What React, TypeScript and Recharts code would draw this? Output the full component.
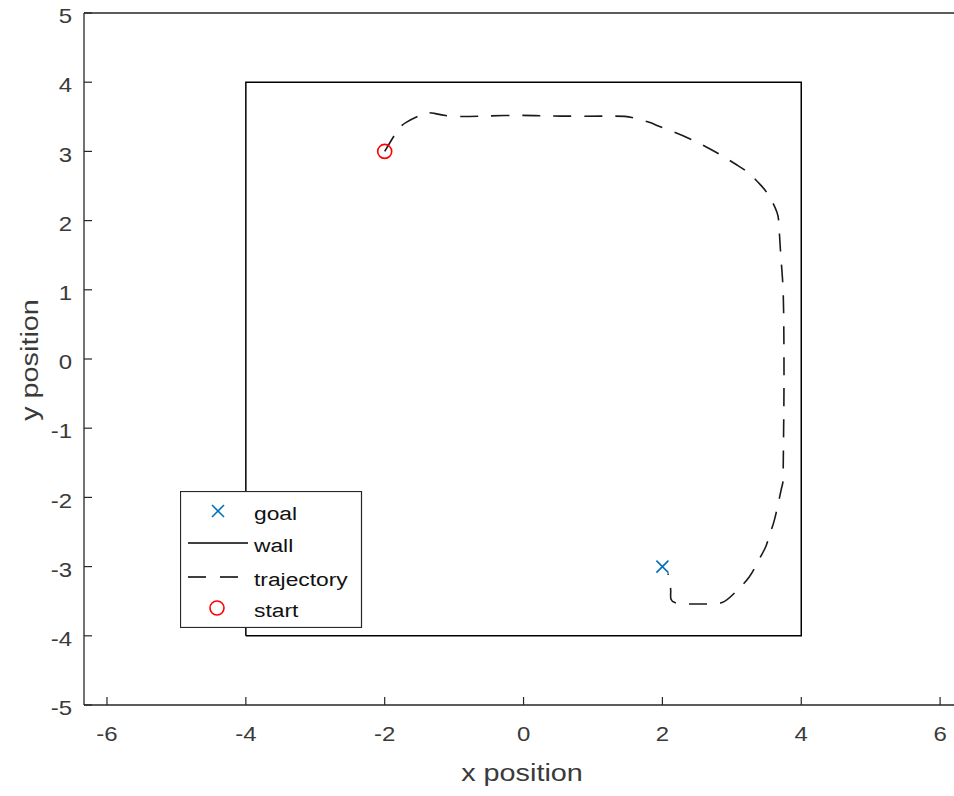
import React from 'react';
import { ScatterChart, Scatter, XAxis, YAxis, Legend } from 'recharts';

// ---- data ----
const xTicks = [-6, -4, -2, 0, 2, 4, 6];
const yTicks = [-5, -4, -3, -2, -1, 0, 1, 2, 3, 4, 5];
const xDomain = [-6.331, 6.2];
const yDomain = [-5, 5];

const wallX = [-4, -4, 4, 4, -4];
const wallY = [-4, 4, 4, -4, -4];

const trajX = [-2.0, -1.83, -1.69, -1.44, -1.29, -1.04, -0.61, -0.03, 0.55, 1.27, 1.56, 1.81, 1.96, 2.4, 2.82, 3.08, 3.25, 3.41, 3.54, 3.65, 3.68, 3.71, 3.74, 3.75, 3.75, 3.74, 3.72, 3.62, 3.55, 3.49, 3.39, 3.25, 3.05, 2.86, 2.57, 2.18, 2.12, 2.08];
const trajY = [3.0, 3.28, 3.42, 3.54, 3.55, 3.51, 3.51, 3.52, 3.51, 3.51, 3.49, 3.42, 3.36, 3.18, 2.96, 2.8, 2.68, 2.52, 2.35, 2.12, 1.91, 1.43, 0.95, 0.23, -0.6, -1.6, -1.85, -2.3, -2.52, -2.71, -2.9, -3.15, -3.37, -3.52, -3.54, -3.52, -3.36, -3.1];

const goalX = [2];
const goalY = [-3];
const startX = [-2];
const startY = [3];

const seriesNames = ['goal', 'wall', 'trajectory', 'start'];

const toPts = (xs: number[], ys: number[]) => xs.map((x, i) => ({ x, y: ys[i] }));
const wallData = toPts(wallX, wallY);
const trajData = toPts(trajX, trajY);
const goalData = toPts(goalX, goalY);
const startData = toPts(startX, startY);

// ---- styles ----
const FONT = '"Liberation Sans", Arial, Helvetica, sans-serif';
const TXT = '#3a3a3a';
const AX = '#262626';
const SX = 1.2;
const BLUE = '#0072BD';
const RED = '#FF0000';
const DASH = '18 13';

const XTick = (p: any) => (
  <g transform={`translate(${p.x},${p.y}) scale(${SX},1)`}>
    <text x={0} y={0} dy="0.72em" textAnchor="middle" fontSize={20} fill={TXT} fontFamily={FONT}>
      {p.payload.value}
    </text>
  </g>
);

const YTick = (p: any) => (
  <g transform={`translate(${p.x},${p.y + 3}) scale(${SX},1)`}>
    <text x={0} y={0} dy="0.355em" textAnchor="end" fontSize={20} fill={TXT} fontFamily={FONT}>
      {p.payload.value}
    </text>
  </g>
);

const XLabel = (p: any) => {
  const vb = p.viewBox || {};
  const cx = vb.x + vb.width / 2 + 3;
  const by = vb.y + 76;
  return (
    <g transform={`translate(${cx},${by}) scale(${SX},1)`}>
      <text x={0} y={0} textAnchor="middle" fontSize={24} fill={TXT} fontFamily={FONT}>x position</text>
    </g>
  );
};

const YLabel = (p: any) => {
  const vb = p.viewBox || {};
  const bx = vb.x + 38;
  const cy = vb.y + vb.height / 2 + 1;
  return (
    <g transform={`translate(${bx},${cy}) rotate(-90) scale(${SX},1)`}>
      <text x={0} y={0} textAnchor="middle" fontSize={24} fill={TXT} fontFamily={FONT}>y position</text>
    </g>
  );
};

const GoalShape = (p: any) => {
  const { cx, cy } = p;
  const s = 6;
  return (
    <g stroke={BLUE} strokeWidth={1.6}>
      <line x1={cx - s} y1={cy - s} x2={cx + s} y2={cy + s} />
      <line x1={cx - s} y1={cy + s} x2={cx + s} y2={cy - s} />
    </g>
  );
};

const StartShape = (p: any) => (
  <circle cx={p.cx} cy={p.cy} r={7} fill="none" stroke={RED} strokeWidth={1.6} />
);

const NoShape = () => null;

const legendIcon = (name: string, cy: number) => {
  if (name === 'goal') {
    const cx = 38, s = 6;
    return (
      <g stroke={BLUE} strokeWidth={1.6}>
        <line x1={cx - s} y1={cy - s} x2={cx + s} y2={cy + s} />
        <line x1={cx - s} y1={cy + s} x2={cx + s} y2={cy - s} />
      </g>
    );
  }
  if (name === 'wall') return <line x1={8} y1={cy} x2={68} y2={cy} stroke="#000" strokeWidth={1.5} />;
  if (name === 'trajectory') return <line x1={8} y1={cy} x2={60} y2={cy} stroke="#000" strokeWidth={1.6} strokeDasharray="18 14" />;
  return <circle cx={37} cy={cy} r={7} fill="none" stroke={RED} strokeWidth={1.6} />;
};

const renderLegend = () => {
  const rowY = [20, 52, 86, 117];
  return (
    <svg width={183} height={137} style={{ display: 'block' }}>
      <rect x={0.5} y={0.5} width={181} height={136} fill="#fff" stroke={AX} strokeWidth={1.2} />
      {seriesNames.map((n, i) => (
        <g key={n}>
          {legendIcon(n, rowY[i])}
          <g transform={`translate(74,${rowY[i] + 9}) scale(${SX},1)`}>
            <text x={0} y={0} fontSize={19} fill="#111" fontFamily={FONT}>{n}</text>
          </g>
        </g>
      ))}
    </svg>
  );
};

export default function App() {
  return (
    <div style={{ position: 'absolute', left: 0, top: 0, width: 954, height: 796, background: '#fff' }}>
      <ScatterChart width={954} height={796} margin={{ top: 12, right: 0, bottom: 0, left: 0 }}>
        <XAxis
          type="number"
          dataKey="x"
          domain={xDomain}
          ticks={xTicks}
          interval={0}
          allowDataOverflow
          height={91}
          tickSize={-8}
          tickMargin={30}
          tick={<XTick />}
          axisLine={{ stroke: AX, strokeWidth: 1.3 }}
          tickLine={{ stroke: AX, strokeWidth: 1.2 }}
          label={<XLabel />}
        />
        <XAxis
          xAxisId="top"
          orientation="top"
          type="number"
          dataKey="x"
          domain={xDomain}
          ticks={xTicks}
          interval={0}
          allowDataOverflow
          height={1}
          tickSize={-8}
          tick={false}
          axisLine={{ stroke: AX, strokeWidth: 1.3 }}
          tickLine={{ stroke: AX, strokeWidth: 1.2 }}
        />
        <YAxis
          type="number"
          dataKey="y"
          domain={yDomain}
          ticks={yTicks}
          interval={0}
          allowDataOverflow
          width={84}
          tickSize={-8}
          tickMargin={20}
          tick={<YTick />}
          axisLine={{ stroke: AX, strokeWidth: 1.3 }}
          tickLine={{ stroke: AX, strokeWidth: 1.2 }}
          label={<YLabel />}
        />
        <Scatter name="goal" data={goalData} fill={BLUE} shape={<GoalShape />} isAnimationActive={false} />
        <Scatter
          name="wall"
          data={wallData}
          fill="#000"
          line={{ stroke: '#000', strokeWidth: 1.5 }}
          lineType="joint"
          shape={<NoShape />}
          isAnimationActive={false}
        />
        <Scatter
          name="trajectory"
          data={trajData}
          fill="#000"
          line={{ stroke: '#1a1a1a', strokeWidth: 1.6, strokeDasharray: DASH }}
          lineType="joint"
          lineJointType="natural"
          shape={<NoShape />}
          isAnimationActive={false}
        />
        <Scatter name="start" data={startData} fill={RED} shape={<StartShape />} isAnimationActive={false} />
        <Legend
          layout="vertical"
          align="center"
          verticalAlign="middle"
          content={renderLegend}
          wrapperStyle={{ position: 'absolute', left: 180, top: 491, width: 183, height: 137 }}
        />
      </ScatterChart>
    </div>
  );
}
